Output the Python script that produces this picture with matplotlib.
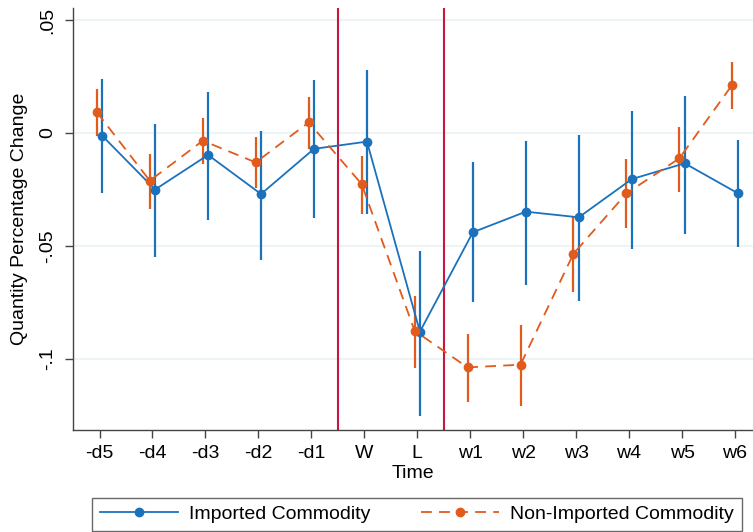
import numpy as np
import matplotlib
matplotlib.use("Agg")
import matplotlib.pyplot as plt

plt.rcParams["font.family"] = ["Liberation Sans", "DejaVu Sans"]

periods = ["-d5", "-d4", "-d3", "-d2", "-d1", "W", "L",
           "w1", "w2", "w3", "w4", "w5", "w6"]

imp_coef = [-0.0012, -0.0250, -0.0097, -0.0270, -0.0070, -0.0038, -0.0879,
            -0.0439, -0.0348, -0.0373, -0.0204, -0.0134, -0.0266]
imp_lo = [-0.0266, -0.0550, -0.0385, -0.0560, -0.0377, -0.0360, -0.1250,
          -0.0748, -0.0673, -0.0742, -0.0513, -0.0447, -0.0506]
imp_hi = [0.0240, 0.0040, 0.0180, 0.0010, 0.0235, 0.0280, -0.0520,
          -0.0129, -0.0034, -0.0009, 0.0099, 0.0165, -0.0030]

non_coef = [0.0092, -0.0211, -0.0034, -0.0130, 0.0047, -0.0226, -0.0875,
            -0.1037, -0.1025, -0.0534, -0.0267, -0.0112, 0.0214]
non_lo = [-0.0012, -0.0336, -0.0137, -0.0245, -0.0071, -0.0358, -0.1040,
          -0.1192, -0.1207, -0.0702, -0.0422, -0.0260, 0.0106]
non_hi = [0.0195, -0.0093, 0.0066, -0.0019, 0.0158, -0.0100, -0.0720,
          -0.0889, -0.0850, -0.0373, -0.0115, 0.0025, 0.0316]

BLUE = "#1a72bd"
ORANGE = "#e05b1c"
RED = "#c8163f"
FS = 14

x = np.arange(len(periods))

fig = plt.figure(figsize=(7.53, 5.32), dpi=100)
ax = fig.add_axes([0.097, 0.1917, 0.903, 0.7932])

for y in [0.05, 0, -0.05, -0.1]:
    ax.axhline(y, color="#eaf2f3", lw=1.2, zorder=0)

for xv in [4.5, 6.5]:
    ax.axvline(xv, color=RED, lw=1.5, zorder=1)

xi = x + 0.05
xn = x - 0.05
ax.vlines(xi, imp_lo, imp_hi, color=BLUE, lw=1.6, zorder=2)
ax.plot(xi, imp_coef, color=BLUE, lw=1.3, marker="o", ms=6,
        label="Imported Commodity", zorder=3)
ax.vlines(xn, non_lo, non_hi, color=ORANGE, lw=1.6, zorder=2)
ax.plot(xn, non_coef, color=ORANGE, lw=1.3, ls=(0, (6, 4)), marker="o",
        ms=6, label="Non-Imported Commodity", zorder=3)

ax.set_xlim(-0.5, 12.34)
ax.set_ylim(-0.1314, 0.0553)
ax.set_xticks(x)
ax.set_xticklabels(periods)
ax.set_yticks([0.05, 0, -0.05, -0.1])
ax.set_yticklabels([".05", "0", "-.05", "-.1"], rotation=90, va="center")
ax.tick_params(labelsize=FS, length=6, color="#444444", width=1)
ax.tick_params(axis="x", pad=5)
ax.tick_params(axis="y", pad=6)

for s in ["top", "right"]:
    ax.spines[s].set_visible(False)
for s in ["left", "bottom"]:
    ax.spines[s].set_color("#444444")
    ax.spines[s].set_linewidth(1)

ax.set_xlabel("Time", fontsize=FS, labelpad=2)
ax.set_ylabel("Quantity Percentage Change", fontsize=FS, labelpad=8)

handles, labels = ax.get_legend_handles_labels()
fig.legend(handles, labels, ncol=2, mode="expand",
           bbox_to_anchor=(92 / 753, 1 - 531 / 532, 650 / 753, 37 / 532),
           loc="lower left", fontsize=FS, frameon=True, fancybox=False,
           edgecolor="#444444", handlelength=4.0, handletextpad=0.6,
           borderaxespad=0, columnspacing=2)

fig.savefig("out.png", dpi=100)
